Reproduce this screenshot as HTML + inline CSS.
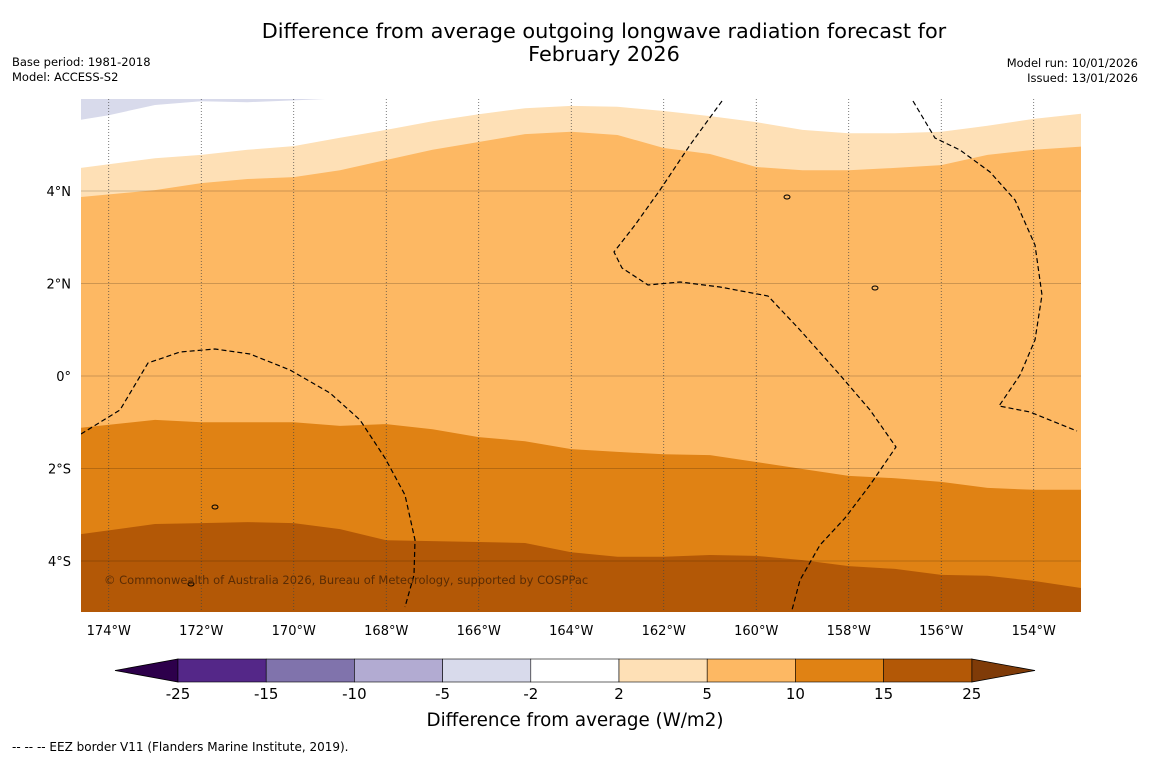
<!DOCTYPE html>
<html><head><meta charset="utf-8"><style>
body{margin:0;background:#fff;}
svg text{font-family:"DejaVu Sans","Liberation Sans",sans-serif;}
</style></head><body>
<svg id="chart" width="1150" height="758" xmlns="http://www.w3.org/2000/svg">
<rect width="1150" height="758" fill="#fff"/>
<text x="604" y="38" font-size="20.8" text-anchor="middle">Difference from average outgoing longwave radiation forecast for</text>
<text x="604" y="61" font-size="20.8" text-anchor="middle">February 2026</text>
<text x="12" y="66" font-size="11.5">Base period: 1981-2018</text>
<text x="12" y="81" font-size="11.5">Model: ACCESS-S2</text>
<text x="1138" y="67" font-size="11.5" text-anchor="end">Model run: 10/01/2026</text>
<text x="1138" y="82" font-size="11.5" text-anchor="end">Issued: 13/01/2026</text>
<g id="plot"></g>
<g id="cbar"></g>
<text x="575" y="726" font-size="18.3" text-anchor="middle">Difference from average (W/m2)</text>
<text x="12" y="751" font-size="12">--  --  -- EEZ border V11 (Flanders Marine Institute, 2019).</text>
</svg>
<script>
const lons=[-174.6,-173,-172,-171,-170,-169,-168,-167,-166,-165,-164,-163,-162,-161,-160,-159,-158,-157,-156,-155,-154,-152.8];
const lat2=[4.50,4.71,4.78,4.89,4.97,5.15,5.32,5.51,5.66,5.79,5.84,5.82,5.73,5.62,5.49,5.32,5.25,5.25,5.28,5.41,5.56,5.69];
const lat5=[3.87,4.02,4.17,4.26,4.30,4.45,4.67,4.89,5.06,5.23,5.28,5.21,4.93,4.80,4.52,4.45,4.45,4.50,4.56,4.78,4.89,4.97];
const lat10=[-1.12,-0.95,-1.0,-1.0,-1.0,-1.08,-1.04,-1.15,-1.32,-1.41,-1.58,-1.64,-1.69,-1.71,-1.86,-2.01,-2.16,-2.21,-2.29,-2.42,-2.46,-2.46];
const lat15=[-3.42,-3.20,-3.18,-3.16,-3.18,-3.31,-3.55,-3.57,-3.59,-3.61,-3.81,-3.91,-3.91,-3.87,-3.89,-3.98,-4.11,-4.17,-4.30,-4.32,-4.43,-4.61];
const lavLons=[-174.6,-174,-173,-172,-171,-170,-169.5,-169.1];
const lavLats=[5.54,5.64,5.86,5.94,5.92,5.96,5.98,6.0];
const lonTicks=[-174,-172,-170,-168,-166,-164,-162,-160,-158,-156,-154];
const latTicks=[4,2,0,-2,-4];
const cbarBounds=[-25,-15,-10,-5,-2,2,5,10,15,25];
const cbarColors=['#542788','#8073ac','#b2abd2','#d8daeb','#ffffff','#fee0b6','#fdb863','#e08214','#b35806'];

const X0=81,X1=1081,Y0=99,Y1=612;
const LON0=-174.6,LON1=-152.978;
const x=lon=>X0+(lon-LON0)/(LON1-LON0)*(X1-X0);
const y=lat=>376-lat*46.25;
const NS='http://www.w3.org/2000/svg';
const plot=document.getElementById('plot');
function mk(tag,attrs,parent){const e=document.createElementNS(NS,tag);for(const k in attrs)e.setAttribute(k,attrs[k]);parent.appendChild(e);return e;}
const defs=mk('defs',{},plot);
const cp=mk('clipPath',{id:'clip'},defs);
mk('rect',{x:X0,y:Y0,width:X1-X0,height:Y1-Y0},cp);
const g=mk('g',{'clip-path':'url(#clip)'},plot);
mk('rect',{x:X0,y:Y0,width:X1-X0,height:Y1-Y0,fill:'#ffffff'},g);
function band(lats,color,name){
  let d='M'+x(lons[0])+','+y(lats[0]);
  for(let i=1;i<lons.length;i++)d+=' L'+x(lons[i]).toFixed(1)+','+y(lats[i]).toFixed(1);
  d+=' L'+X1+','+(Y1+5)+' L'+X0+','+(Y1+5)+' Z';
  const p=mk('path',{d:d,fill:color},g);
  
  
}
band(lat2,'#fee0b6','band-2-to-5');
band(lat5,'#fdb863','band-5-to-10');
band(lat10,'#e08214','band-10-to-15');
band(lat15,'#b35806','band-15-to-25');
{let d='M'+X0+','+(Y0-5);
 for(let i=0;i<lavLons.length;i++)d+=' L'+x(lavLons[i]).toFixed(1)+','+y(lavLats[i]).toFixed(1);
 d+=' L'+x(lavLons[lavLons.length-1])+','+(Y0-5)+' Z';
 const p=mk('path',{d:d,fill:'#d8daeb'},g);
 
 }
lonTicks.forEach(l=>{
  const ln=mk('line',{x1:x(l),x2:x(l),y1:Y0,y2:Y1,stroke:'#444','stroke-width':0.7,'stroke-dasharray':'1,2'},g);
  
  
  const t=mk('text',{x:x(l),y:635,'font-size':13,'text-anchor':'middle'},plot);
  t.textContent=Math.abs(l)+'°W';
  
  
});
latTicks.forEach(l=>{
  const ln=mk('line',{x1:X0,x2:X1,y1:y(l),y2:y(l),stroke:'#000','stroke-opacity':0.25,'stroke-width':0.8},g);
  
  
  const t=mk('text',{x:71,y:y(l)+5,'font-size':13,'text-anchor':'end'},plot);
  t.textContent=l===0?'0°':Math.abs(l)+'°'+(l>0?'N':'S');
  
  
});
const eez=[
 [[81,434],[120,410],[148,363],[180,352],[215,349],[250,354],[290,370],[330,393],[360,420],[385,458],[405,495],[415,540],[414,575],[405,607]],
 [[722,101],[690,145],[660,190],[635,225],[614,252],[622,268],[648,285],[680,282],[720,287],[768,296],[800,330],[840,375],[870,410],[896,447],[870,485],[845,518],[820,545],[800,580],[792,610]],
 [[913,101],[935,138],[960,150],[990,172],[1015,200],[1035,245],[1042,295],[1035,340],[1020,375],[999,406],[1030,412],[1077,431]]
];
eez.forEach(pts=>{
  const pl=mk('polyline',{points:pts.map(p=>p.join(',')).join(' '),fill:'none',stroke:'#000','stroke-width':1.2,'stroke-dasharray':'5,3'},g);
  
  
});
[[787,197],[875,288],[215,507],[191,584]].forEach(p=>{
  const e=mk('ellipse',{cx:p[0],cy:p[1],rx:3,ry:2,fill:'none',stroke:'#000','stroke-width':1},g);
  
  
});
const cr=mk('text',{x:104,y:584,'font-size':11.5,fill:'#5a2c05'},g);
cr.textContent='© Commonwealth of Australia 2026, Bureau of Meteorology, supported by COSPPac';


const cb=document.getElementById('cbar');
const CX0=178,CW=88.2,CY=659,CH=23;
mk('polygon',{points:`115,${CY+CH/2} ${CX0},${CY} ${CX0},${CY+CH}`,fill:'#2d004b',stroke:'#000','stroke-width':0.8},cb);
const rx=CX0+CW*cbarColors.length;
mk('polygon',{points:`${rx},${CY} 1035,${CY+CH/2} ${rx},${CY+CH}`,fill:'#7f3b08',stroke:'#000','stroke-width':0.8},cb);
cbarColors.forEach((c,i)=>{
  const r=mk('rect',{x:CX0+i*CW,y:CY,width:CW,height:CH,fill:c,stroke:'#000','stroke-width':0.6},cb);
  
  
});
cbarBounds.forEach((v,i)=>{
  const t=mk('text',{x:CX0+i*CW,y:699,'font-size':15,'text-anchor':'middle'},cb);
  t.textContent=v;
  
  
});
</script>
</body></html>
